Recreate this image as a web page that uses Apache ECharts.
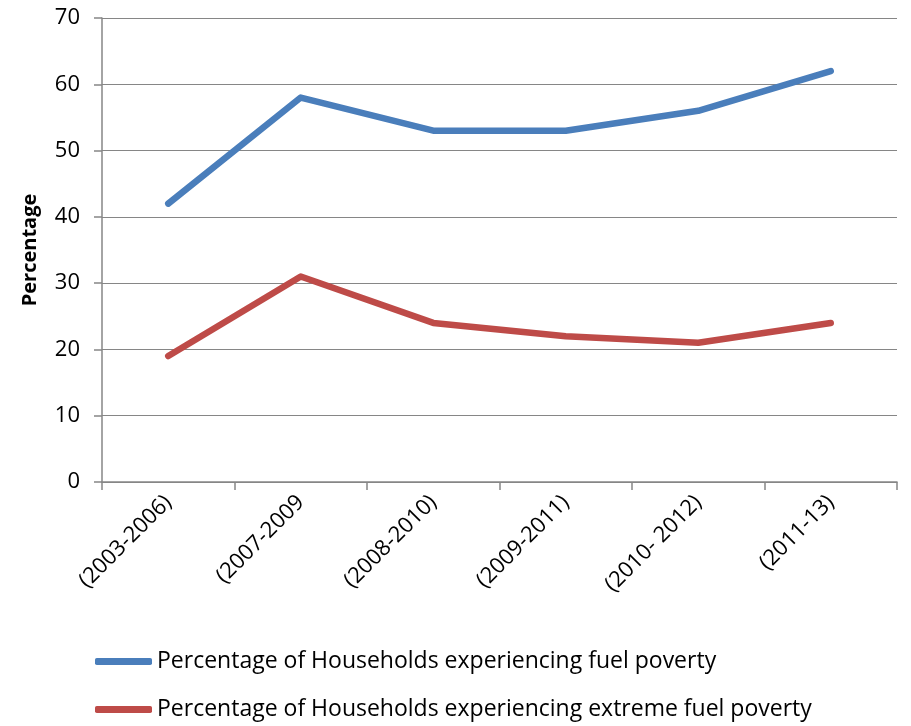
<!DOCTYPE html>
<html><head><meta charset="utf-8">
<script src="https://cdn.jsdelivr.net/npm/echarts@6/dist/echarts.min.js"></script>
<style>html,body{margin:0;padding:0;background:#fff}#c{width:911px;height:726px}</style>
</head><body><div id="c"></div>
<script>
var categories = ['(2003-2006)', '(2007-2009', '(2008-2010)', '(2009-2011)', '(2010- 2012)', '(2011-13)'];
var fuelPoverty = [42, 58, 53, 53, 56, 62];
var extremeFuelPoverty = [19, 31, 24, 22, 21, 24];
var yTicks = [0, 10, 20, 30, 40, 50, 60, 70];
var seriesNames = ['Percentage of Households experiencing fuel poverty', 'Percentage of Households experiencing extreme fuel poverty'];

var FONT = '"Open Sans", "Noto Sans", sans-serif';
var chart = echarts.init(document.getElementById('c'), null, {renderer: 'canvas'});
chart.setOption({
  animation: false,
  backgroundColor: '#ffffff',
  textStyle: {fontFamily: FONT},
  grid: {left: 102, right: 14, top: 18, bottom: 244, containLabel: false},
  legend: {
    orient: 'vertical', left: 90, top: 645, itemGap: 25,
    itemWidth: 57, itemHeight: 7, icon: 'roundRect',
    textStyle: {fontFamily: FONT, fontSize: 23, color: '#000'},
    data: seriesNames
  },
  xAxis: {
    type: 'category', data: categories, boundaryGap: true,
    axisLine: {lineStyle: {color: '#868686', width: 1.5}},
    axisTick: {show: true, alignWithLabel: false, length: 8, lineStyle: {color: '#868686', width: 1.5}},
    axisLabel: {rotate: 45, fontSize: 22, color: '#000', fontFamily: FONT, margin: 17, interval: 0},
    splitLine: {show: false}
  },
  yAxis: {
    type: 'value', min: yTicks[0], max: yTicks[yTicks.length - 1], interval: 10,
    name: 'Percentage', nameLocation: 'middle', nameGap: 62, nameRotate: 90,
    nameTextStyle: {fontSize: 20, fontWeight: 'bold', color: '#000', fontFamily: FONT},
    axisLine: {show: true, lineStyle: {color: '#868686', width: 1.5}},
    axisTick: {show: true, length: 8, lineStyle: {color: '#868686', width: 1.5}},
    axisLabel: {fontSize: 22, color: '#000', fontFamily: FONT, margin: 22},
    splitLine: {show: true, lineStyle: {color: '#868686', width: 1.2}}
  },
  series: [
    {name: seriesNames[0], type: 'line', data: fuelPoverty, showSymbol: false, symbol: 'none',
     lineStyle: {color: '#4A7EBB', width: 6.5, cap: 'round', join: 'round'}, itemStyle: {color: '#4A7EBB'}},
    {name: seriesNames[1], type: 'line', data: extremeFuelPoverty, showSymbol: false, symbol: 'none',
     lineStyle: {color: '#BE4B48', width: 6.5, cap: 'round', join: 'round'}, itemStyle: {color: '#BE4B48'}}
  ]
});
</script></body></html>
